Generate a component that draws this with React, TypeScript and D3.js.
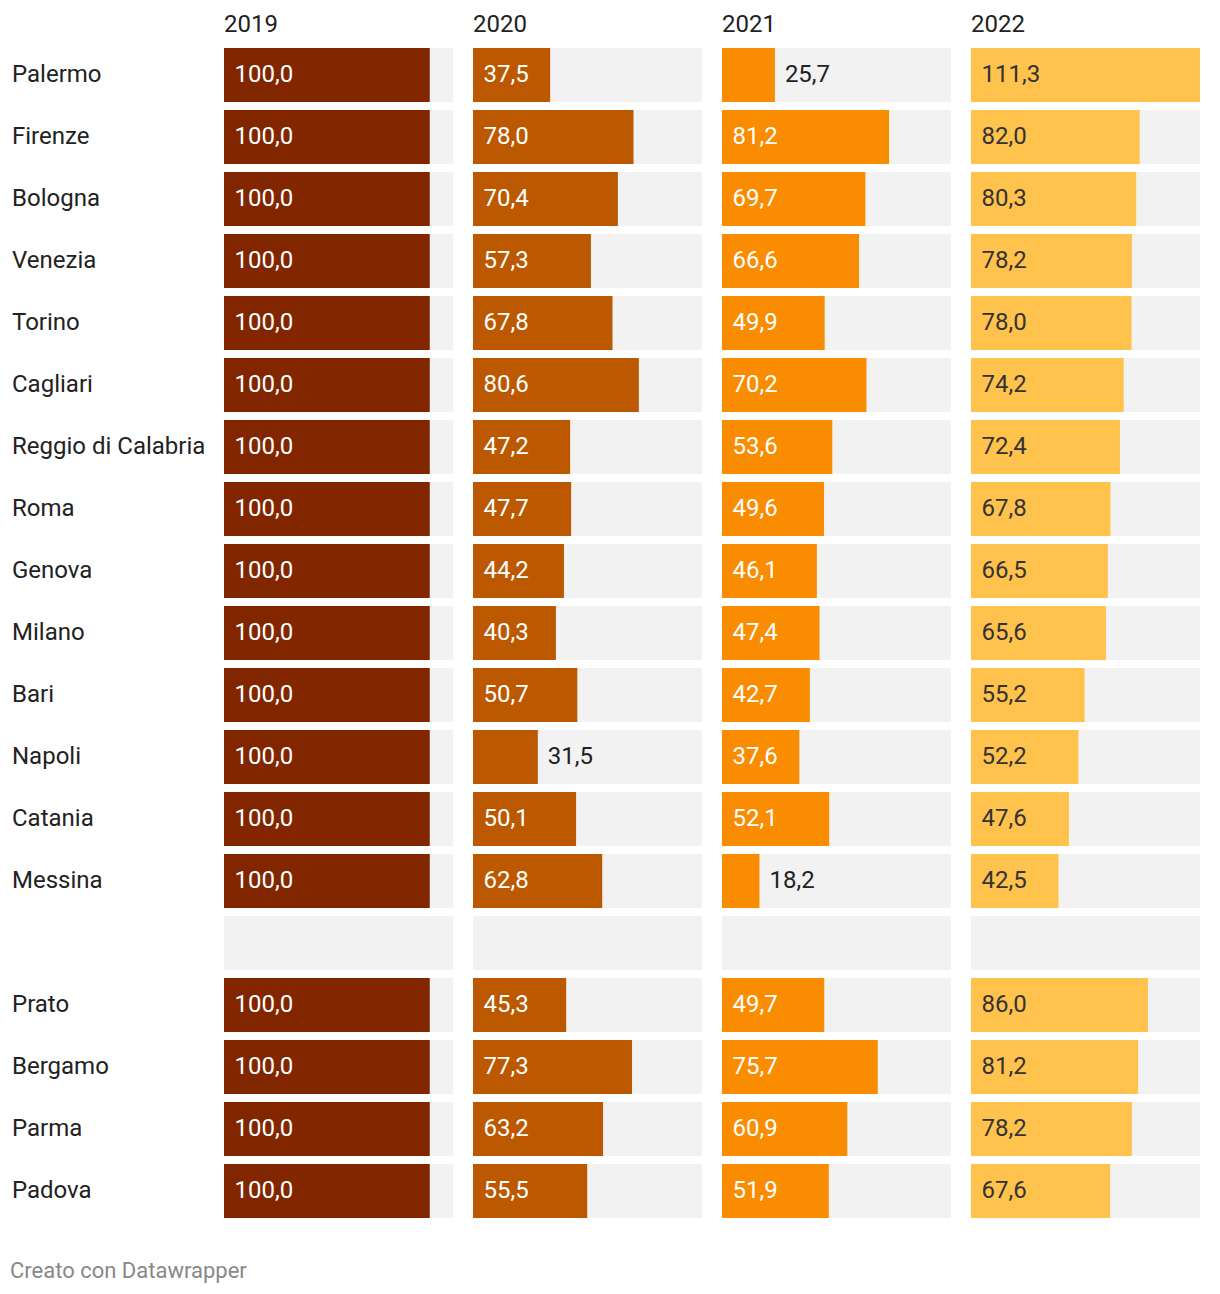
import React from "react";
import * as d3 from "d3";

const cities = ["Palermo","Firenze","Bologna","Venezia","Torino","Cagliari","Reggio di Calabria","Roma","Genova","Milano","Bari","Napoli","Catania","Messina","","Prato","Bergamo","Parma","Padova"];
const years = ["2019","2020","2021","2022"];
const v2019 = [100,100,100,100,100,100,100,100,100,100,100,100,100,100,null,100,100,100,100];
const v2020 = [37.5,78.0,70.4,57.3,67.8,80.6,47.2,47.7,44.2,40.3,50.7,31.5,50.1,62.8,null,45.3,77.3,63.2,55.5];
const v2021 = [25.7,81.2,69.7,66.6,49.9,70.2,53.6,49.6,46.1,47.4,42.7,37.6,52.1,18.2,null,49.7,75.7,60.9,51.9];
const v2022 = [111.3,82.0,80.3,78.2,78.0,74.2,72.4,67.8,66.5,65.6,55.2,52.2,47.6,42.5,null,86.0,81.2,78.2,67.6];
const series = [v2019, v2020, v2021, v2022];
const colors = ["#822600", "#bc5900", "#f98c00", "#ffc24c"];
const insideText = ["#ffffff", "#ffffff", "#ffffff", "#333333"];

const W = 1220, H = 1294;
const FONT = "Roboto, sans-serif";

export default function App() {
  const y = d3.scaleBand<number>().domain(d3.range(cities.length)).range([48, 1218]).paddingInner(8 / 62).paddingOuter(0);
  const col = d3.scaleBand<string>().domain(years).range([224, 1200]).paddingInner(20 / 249).paddingOuter(0);
  const bw = col.bandwidth();
  const x = d3.scaleLinear().domain([0, 111.3]).range([0, bw]);
  const fmt = (v: number) => v.toFixed(1).replace(".", ",");
  const fs = 24;

  return (
    <div style={{ position: "absolute", left: 0, top: 0 }}>
      <svg width={W} height={H} style={{ display: "block", background: "#fff" }} fontFamily={FONT}>
        {years.map((yr) => (
          <text key={yr} x={col(yr)} y={24} dy="0.35em" fontSize={fs} fill="#222">{yr}</text>
        ))}
        {cities.map((c, i) => (
          <text key={"l" + i} x={12} y={(y(i) as number) + y.bandwidth() / 2 - 1.5} dy="0.35em" fontSize={fs} fill="#222">{c}</text>
        ))}
        {years.map((yr, j) => {
          const x0 = Math.round(col(yr) as number);
          return (
            <g key={"c" + yr}>
              {series[j].map((v, i) => {
                const yy = y(i) as number;
                const cy = yy + y.bandwidth() / 2 - 1.5;
                const w = v == null ? 0 : x(v);
                const inside = w >= 72;
                return (
                  <g key={i}>
                    <rect x={x0} y={yy} width={bw} height={y.bandwidth()} fill="#f2f2f2" />
                    {v != null && <rect x={x0} y={yy} width={w} height={y.bandwidth()} fill={colors[j]} />}
                    {v != null && (
                      <text x={inside ? x0 + 10.5 : x0 + w + 10} y={cy} dy="0.35em" fontSize={fs}
                        fill={inside ? insideText[j] : "#222"}>{fmt(v)}</text>
                    )}
                  </g>
                );
              })}
            </g>
          );
        })}
        <text x={10} y={1270} dy="0.35em" fontSize={22} fill="#888">Creato con Datawrapper</text>
      </svg>
    </div>
  );
}
